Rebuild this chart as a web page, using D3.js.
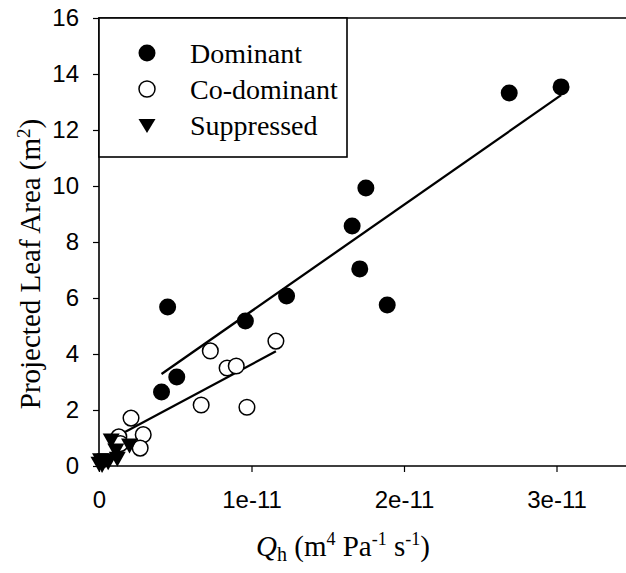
<!DOCTYPE html>
<html>
<head>
<meta charset="utf-8">
<script src="https://cdn.jsdelivr.net/npm/d3@7"></script>
<style>
  html, body { margin: 0; padding: 0; background: #fff; }
  svg { display: block; }
</style>
</head>
<body>
<svg id="chart" width="626" height="573"></svg>
<script>
// Hydraulic conductance (Qh) vs projected leaf area, by crown class
const dominantQh   = [0.41e-11, 0.51e-11, 0.45e-11, 0.96e-11, 1.23e-11, 1.66e-11, 1.71e-11, 1.75e-11, 1.89e-11, 2.69e-11, 3.03e-11];
const dominantLA   = [2.64, 3.18, 5.68, 5.18, 6.07, 8.57, 7.04, 9.93, 5.75, 13.32, 13.54];

const codominantQh = [0.13e-11, 0.14e-11, 0.21e-11, 0.29e-11, 0.27e-11, 0.67e-11, 0.73e-11, 0.84e-11, 0.90e-11, 0.97e-11, 1.16e-11];
const codominantLA = [1.04, 0.80, 1.71, 1.12, 0.64, 2.18, 4.11, 3.50, 3.57, 2.10, 4.46];

const suppressedQh = [0.00e-11, 0.01e-11, 0.04e-11, 0.02e-11, 0.08e-11, 0.11e-11, 0.12e-11, 0.20e-11, 0.06e-11];
const suppressedLA = [0.10, 0.22, 0.22, 0.05, 0.93, 0.57, 0.28, 0.75, 0.15];

// Linear fits (slope in m2 per 1e-11 units of Qh), drawn over each class's range
const fitNames      = ["Dominant", "Co-dominant"];
const fitSlopes     = [3.80, 2.91];
const fitIntercepts = [1.73, 0.72];
const fitFrom       = [0.41e-11, 0.06e-11];
const fitTo         = [3.03e-11, 1.16e-11];

const xTicks      = [0, 1e-11, 2e-11, 3e-11];
const xTickLabels = ["0", "1e-11", "2e-11", "3e-11"];
const yTicks      = [0, 2, 4, 6, 8, 10, 12, 14, 16];
const legendNames = ["Dominant", "Co-dominant", "Suppressed"];

(function draw() {
  const svg = d3.select("#chart");
  svg.append("rect").attr("width", 626).attr("height", 573).attr("fill", "#fff");

  const plotLeft = 99, plotTop = 18, plotBottom = 466;
  const x = d3.scaleLinear().domain([0, 3.5e-11]).range([plotLeft, plotLeft + 152.5 * 3.5]);
  const y = d3.scaleLinear().domain([0, 16]).range([plotBottom, plotTop]);

  const serif = "'Liberation Serif', 'Times New Roman', serif";
  const sans  = "'Liberation Sans', Arial, sans-serif";

  // Axes
  const xAxis = d3.axisBottom(x).tickValues(xTicks)
    .tickFormat((d, i) => xTickLabels[i]).tickSizeInner(6).tickSizeOuter(0).tickPadding(19);
  const yAxis = d3.axisLeft(y).tickValues(yTicks)
    .tickFormat(d3.format("d")).tickSizeInner(6).tickSizeOuter(0).tickPadding(14);

  const gx = svg.append("g").attr("transform", `translate(0,${plotBottom})`).call(xAxis);
  const gy = svg.append("g").attr("transform", `translate(${plotLeft},0)`).call(yAxis);
  [gx, gy].forEach(g => {
    g.select(".domain").remove();
    g.selectAll(".tick line").attr("stroke", "#000").attr("stroke-width", 1.2);
    g.selectAll(".tick text").attr("fill", "#000").style("font-family", sans).style("font-size", "24px");
  });

  // Plot frame
  const xEnd = x.range()[1];
  svg.append("path")
    .attr("d", `M${plotLeft},${plotTop}H${xEnd}V${plotBottom}H${plotLeft}Z`)
    .attr("fill", "none").attr("stroke", "#000").attr("stroke-width", 1.6);

  // Regression lines
  const fitLines = fitNames.map((n, i) => [
    [fitFrom[i], fitIntercepts[i] + fitSlopes[i] * fitFrom[i] / 1e-11],
    [fitTo[i],   fitIntercepts[i] + fitSlopes[i] * fitTo[i] / 1e-11]
  ]);
  const line = d3.line().x(d => x(d[0])).y(d => y(d[1]));
  svg.append("g").selectAll("path").data(fitLines).join("path")
    .attr("d", line).attr("fill", "none").attr("stroke", "#000").attr("stroke-width", 2.3);

  // Markers
  const R = 8.5;
  const triPath = "M-8.5,-6.5L8.5,-6.5L0,8.5Z";

  function drawCircles(qh, la, filled) {
    svg.append("g").selectAll("circle").data(qh.map((q, i) => [q, la[i]])).join("circle")
      .attr("cx", d => x(d[0])).attr("cy", d => y(d[1])).attr("r", filled ? R : R - 0.7)
      .attr("fill", filled ? "#000" : "#fff")
      .attr("stroke", "#000").attr("stroke-width", filled ? 0 : 1.5);
  }
  drawCircles(codominantQh, codominantLA, false);
  drawCircles(dominantQh, dominantLA, true);

  svg.append("g").selectAll("path").data(suppressedQh.map((q, i) => [q, suppressedLA[i]])).join("path")
    .attr("d", triPath)
    .attr("transform", d => `translate(${x(d[0])},${y(d[1])})`)
    .attr("fill", "#000");

  // Legend
  const legend = svg.append("g");
  legend.append("rect")
    .attr("x", plotLeft).attr("y", plotTop).attr("width", 347 - plotLeft).attr("height", 157 - plotTop)
    .attr("fill", "#fff").attr("stroke", "#000").attr("stroke-width", 1.6);
  const rows = legend.selectAll("g.row").data(legendNames).join("g")
    .attr("class", "row")
    .attr("transform", (d, i) => `translate(147,${53 + i * 36})`);
  rows.each(function (d, i) {
    const g = d3.select(this);
    if (i === 0) g.append("circle").attr("r", 8.5).attr("fill", "#000");
    if (i === 1) g.append("circle").attr("r", 8).attr("fill", "#fff").attr("stroke", "#000").attr("stroke-width", 1.5);
    if (i === 2) g.append("path").attr("d", "M-8.5,-6L8.5,-6L0,8Z").attr("fill", "#000");
  });
  rows.append("text")
    .attr("x", 43).attr("y", 0).attr("dy", "0.35em")
    .style("font-family", serif).style("font-size", "28px").attr("fill", "#000")
    .text(d => d);

  // Axis titles
  const yTitle = svg.append("text")
    .attr("transform", "translate(40,264) rotate(-90)")
    .attr("text-anchor", "middle")
    .style("font-family", serif).style("font-size", "29px").attr("fill", "#000");
  yTitle.append("tspan").text("Projected Leaf Area (m");
  yTitle.append("tspan").attr("dy", "-10").style("font-size", "19px").text("2");
  yTitle.append("tspan").attr("dy", "10").text(")");

  const xTitle = svg.append("text")
    .attr("x", 343).attr("y", 556)
    .attr("text-anchor", "middle")
    .style("font-family", serif).style("font-size", "29px").attr("fill", "#000");
  xTitle.append("tspan").style("font-style", "italic").text("Q");
  xTitle.append("tspan").attr("dy", "5").style("font-size", "20px").text("h");
  xTitle.append("tspan").attr("dy", "-5").text(" (m");
  xTitle.append("tspan").attr("dy", "-11").style("font-size", "18px").text("4");
  xTitle.append("tspan").attr("dy", "11").text(" Pa");
  xTitle.append("tspan").attr("dy", "-11").style("font-size", "18px").text("-1");
  xTitle.append("tspan").attr("dy", "11").text(" s");
  xTitle.append("tspan").attr("dy", "-11").style("font-size", "18px").text("-1");
  xTitle.append("tspan").attr("dy", "11").text(")");
})();
</script>
</body>
</html>
